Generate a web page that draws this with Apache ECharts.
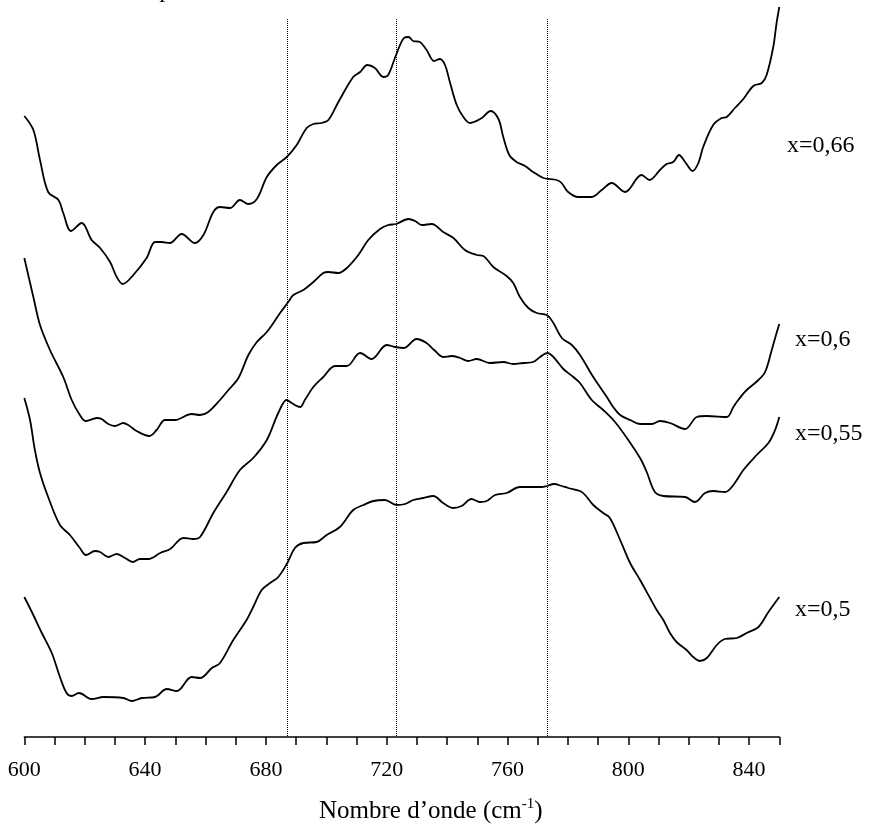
<!DOCTYPE html>
<html>
<head>
<meta charset="utf-8">
<script src="https://cdn.jsdelivr.net/npm/echarts@6/dist/echarts.min.js"></script>
<style>html,body{margin:0;padding:0;background:#fff}#c{width:869px;height:826px}</style>
</head>
<body>
<div id="c"></div>
<script>
// Spectra: [wavenumber (cm-1), intensity (offset, arb. units)]
const spectrum066 = [[600,6.21],[603.0,6.07],[605.2,5.77],[607.9,5.45],[611.3,5.37],[612.9,5.24],[615.5,5.06],[619.0,5.14],[622.3,4.97],[625.1,4.89],[628.4,4.75],[630.6,4.60],[632.6,4.53],[636.1,4.62],[640.5,4.79],[643.3,4.95],[645.5,4.95],[648.2,4.94],[652.1,5.03],[656.5,4.94],[659.3,5.02],[662.6,5.25],[664.8,5.30],[668.1,5.29],[671.4,5.37],[674.2,5.33],[677.0,5.38],[680.3,5.60],[683.6,5.72],[686.9,5.80],[690.2,5.92],[693.5,6.09],[695.7,6.13],[698.5,6.14],[700.7,6.17],[704.0,6.35],[708.9,6.60],[711.2,6.65],[713.6,6.72],[716.1,6.69],[718.9,6.60],[720.5,6.62],[723.1,6.82],[725.7,6.99],[727.2,7.00],[728.8,6.96],[731.0,6.95],[733.2,6.87],[735.7,6.76],[737.6,6.78],[739.3,6.72],[741.0,6.54],[743.2,6.32],[745.4,6.20],[747.6,6.14],[751.5,6.19],[754.4,6.26],[757.0,6.18],[758.6,6.00],[760.6,5.82],[763.0,5.75],[765.8,5.71],[768.5,5.65],[771.9,5.59],[776.3,5.57],[777.9,5.54],[780.1,5.45],[783.4,5.40],[787.9,5.40],[791.2,5.47],[794.5,5.54],[798.9,5.45],[804.4,5.62],[807.0,5.57],[810.5,5.67],[812.7,5.73],[814.9,5.75],[816.8,5.82],[818.8,5.75],[821.3,5.66],[823.2,5.74],[824.8,5.90],[828.1,6.12],[830.9,6.19],[832.6,6.20],[835.3,6.29],[838.1,6.38],[841.4,6.51],[844.2,6.54],[845.8,6.62],[848.0,6.90],[849.1,7.14],[850,7.30]];

const spectrum060 = [[600,4.79],[603.0,4.40],[605.2,4.12],[608.5,3.87],[612.9,3.60],[615.7,3.37],[618.4,3.22],[620.4,3.16],[624.0,3.19],[625.6,3.18],[627.8,3.13],[630.0,3.11],[632.8,3.14],[634.4,3.12],[637.2,3.06],[641.4,3.01],[643.8,3.07],[646.6,3.17],[649.9,3.17],[655.4,3.23],[658.2,3.22],[660.9,3.25],[664.8,3.37],[667.6,3.47],[670.9,3.59],[674.2,3.82],[677.0,3.95],[680.3,4.05],[684.7,4.24],[687.4,4.35],[689.1,4.42],[692.4,4.47],[695.7,4.55],[699.0,4.64],[700.7,4.65],[704.0,4.64],[706.8,4.69],[710.6,4.82],[713.9,4.97],[717.8,5.08],[720.5,5.12],[723.1,5.13],[727.2,5.18],[729.4,5.16],[731.6,5.12],[734.9,5.13],[738.7,5.05],[742.1,4.99],[745.9,4.87],[749.8,4.82],[752.0,4.81],[755.3,4.70],[759.7,4.61],[761.9,4.54],[764.1,4.40],[766.9,4.29],[769.7,4.24],[773.0,4.22],[775.2,4.14],[778.0,3.99],[781.3,3.92],[784.0,3.82],[788.4,3.60],[792.9,3.40],[795.0,3.30],[797.3,3.22],[800.6,3.17],[803.9,3.13],[807.8,3.13],[810.5,3.16],[813.8,3.14],[818.8,3.08],[822.7,3.20],[826.0,3.21],[832.6,3.20],[834.8,3.30],[836.4,3.37],[839.2,3.47],[843.1,3.57],[845.3,3.65],[847.5,3.87],[849.1,4.04],[850,4.13]];

const spectrum055 = [[600,3.39],[601.9,3.17],[603.5,2.87],[605.2,2.64],[607.9,2.40],[611.8,2.12],[615.1,2.02],[618.4,1.89],[620.4,1.82],[623.4,1.86],[625.1,1.85],[627.8,1.80],[630.6,1.83],[633.4,1.79],[635.9,1.75],[638.3,1.78],[641.1,1.78],[645.0,1.84],[648.3,1.88],[652.7,1.99],[656.0,1.98],[658.2,2.00],[662.6,2.24],[667.0,2.45],[671.4,2.67],[675.8,2.79],[680.3,2.97],[684.1,3.24],[686.9,3.37],[688.5,3.34],[691.3,3.30],[692.9,3.37],[695.7,3.50],[699.0,3.60],[702.9,3.71],[706.8,3.71],[711.2,3.84],[715.0,3.78],[720.0,3.92],[722.8,3.90],[725.7,3.89],[729.9,3.98],[733.2,3.94],[735.7,3.87],[738.7,3.80],[741.5,3.81],[744.3,3.79],[747.0,3.76],[749.8,3.78],[754.2,3.74],[758.6,3.75],[761.9,3.73],[765.2,3.74],[768.5,3.75],[770.8,3.80],[773.2,3.84],[775.2,3.80],[778.5,3.68],[781.8,3.60],[784.0,3.54],[787.9,3.37],[791.7,3.27],[795.6,3.15],[800.0,2.97],[803.9,2.79],[806.1,2.65],[808.8,2.45],[811.6,2.41],[818.8,2.40],[822.1,2.35],[825.4,2.44],[828.2,2.46],[832.0,2.45],[834.8,2.52],[838.1,2.67],[842.5,2.82],[846.4,2.94],[848.6,3.07],[850,3.20]];

const spectrum050 = [[600,1.40],[602.5,1.25],[605.8,1.04],[609.1,0.84],[611.8,0.60],[614.0,0.44],[615.7,0.41],[618.1,0.44],[622.3,0.38],[626.2,0.40],[632.8,0.39],[635.6,0.36],[638.9,0.39],[643.3,0.40],[647.2,0.48],[650.5,0.46],[655.4,0.60],[658.2,0.59],[662.1,0.69],[664.8,0.74],[669.2,0.97],[673.6,1.17],[675.8,1.30],[678.6,1.47],[681.4,1.54],[684.1,1.60],[687.1,1.74],[689.6,1.89],[692.4,1.94],[696.8,1.95],[700.1,2.02],[704.5,2.10],[708.9,2.27],[712.3,2.32],[715.6,2.36],[719.4,2.37],[723.3,2.32],[726.1,2.33],[728.8,2.37],[732.1,2.39],[735.4,2.41],[738.7,2.34],[742.1,2.29],[744.8,2.31],[748.1,2.38],[750.9,2.35],[753.1,2.36],[755.9,2.42],[759.7,2.44],[764.1,2.50],[768.5,2.50],[771.3,2.50],[773.0,2.51],[775.4,2.53],[778.0,2.51],[780.1,2.49],[784.0,2.46],[785.7,2.42],[788.4,2.32],[791.7,2.24],[793.9,2.19],[797.3,1.97],[800.6,1.74],[803.9,1.57],[807.2,1.39],[809.4,1.27],[811.6,1.17],[813.8,1.04],[816.0,0.95],[819.3,0.87],[821.5,0.80],[823.7,0.76],[826.0,0.79],[829.3,0.92],[832.0,0.98],[835.9,0.99],[839.2,1.04],[843.1,1.10],[846.4,1.25],[850,1.40]];

const seriesNames = ['x=0,66', 'x=0,6', 'x=0,55', 'x=0,5'];
const referenceLines = [687, 723, 773];
const refLineTop = 7.18;
const xMin = 600, xMax = 850, xStep = 10, labelStep = 40;

const chart = echarts.init(document.getElementById('c'), null, {renderer: 'canvas'});
const FONT = '"Liberation Serif", "Times New Roman", serif';
const spectra = [spectrum066, spectrum060, spectrum055, spectrum050];

const series = spectra.map((d, i) => ({
  name: seriesNames[i],
  type: 'line',
  data: d,
  showSymbol: false,
  smooth: 0.35,
  clip: false,
  lineStyle: {color: '#000', width: 1.8},
  silent: true
}));
series[0].markLine = {
  silent: true,
  symbol: ['none', 'none'],
  label: {show: false},
  lineStyle: {color: '#000', type: 'dotted', width: 1},
  data: referenceLines.map(v => [{coord: [v, refLineTop]}, {coord: [v, 0]}])
};

const labelPos = [[787, 146], [795, 340], [795, 434], [795, 610]];

chart.setOption({
  animation: false,
  backgroundColor: '#fff',
  grid: {left: 24.3, right: 89.7, top: 0, bottom: 89, containLabel: false, outerBoundsMode: 'none'},
  xAxis: {
    type: 'value', min: xMin, max: xMax, interval: xStep,
    axisLine: {lineStyle: {color: '#000', width: 1.5}},
    axisTick: {show: true, length: 8, lineStyle: {color: '#000', width: 1.5}},
    splitLine: {show: false},
    axisLabel: {
      color: '#000', fontFamily: FONT, fontSize: 22, margin: 22,
      formatter: v => (v % labelStep === 0 ? String(v) : '')
    },
    name: 'Nombre d\u2019onde (cm{sup|-1})',
    nameLocation: 'middle',
    nameGap: 60,
    nameTextStyle: {
      color: '#000', fontFamily: FONT, fontSize: 25,
      padding: [0, 0, 0, 58],
      rich: {sup: {fontSize: 15, fontFamily: FONT, color: '#000', verticalAlign: 'top', lineHeight: 28}}
    }
  },
  yAxis: {type: 'value', min: 0, max: 7.37, show: false},
  series: series,
  graphic: [
    {type: 'text', x: 161, y: 3, silent: true,
     style: {text: 'p', font: 'italic 24px ' + FONT, fill: '#000', verticalAlign: 'bottom'}}
  ].concat(seriesNames.map((n, i) => ({
    type: 'text', x: labelPos[i][0], y: labelPos[i][1], silent: true,
    style: {text: n, font: '24px ' + FONT, fill: '#000', verticalAlign: 'middle', align: 'left'}
  })))
});
</script>
</body>
</html>
